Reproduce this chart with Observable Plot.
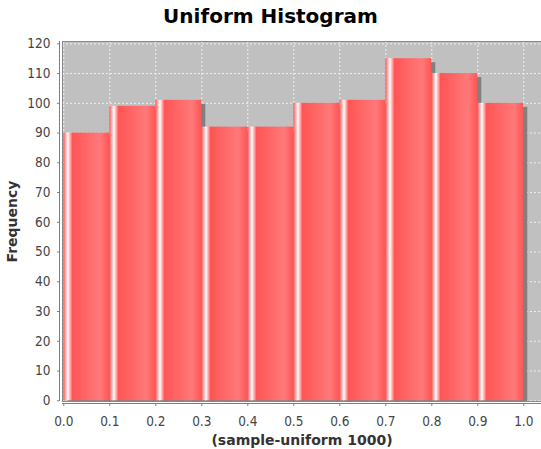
<!DOCTYPE html>
<html>
<head>
<meta charset="utf-8">
<script src="https://cdn.jsdelivr.net/npm/d3@7"></script>
<script src="https://cdn.jsdelivr.net/npm/@observablehq/plot@0.6"></script>
<style>
  html, body { margin: 0; padding: 0; background: #ffffff; }
  #title { width: 541px; height: 33px; line-height: 33px; text-align: center;
    font-family: "DejaVu Sans", sans-serif; font-weight: bold; font-size: 20px; color: #000; }
  svg { display: block; }
</style>
</head>
<body>
<div id="title">Uniform Histogram</div>
<div id="chart"></div>
<script>
const binStarts = [0.0, 0.1, 0.2, 0.3, 0.4, 0.5, 0.6, 0.7, 0.8, 0.9];
const binEnds   = [0.1, 0.2, 0.3, 0.4, 0.5, 0.6, 0.7, 0.8, 0.9, 1.0];
const counts    = [90, 99, 101, 92, 92, 100, 101, 115, 110, 100];
const xTicks = [0.0, 0.1, 0.2, 0.3, 0.4, 0.5, 0.6, 0.7, 0.8, 0.9, 1.0];
const yTicks = [0, 10, 20, 30, 40, 50, 60, 70, 80, 90, 100, 110, 120];
const xLabel = "(sample-uniform 1000)";
const yLabel = "Frequency";

const bins = binStarts.map((s, i) => ({x1: s, x2: binEnds[i], count: counts[i]}));
const xDomain = [-0.0028, 1.0385];
const yDomain = [-0.24, 120.78];

const tickFont = "'DejaVu Sans Condensed', 'DejaVu Sans', sans-serif";

const chart = Plot.plot({
  width: 541,
  height: 416,
  marginTop: 8,
  marginBottom: 48,
  marginLeft: 62,
  marginRight: 0,
  style: {fontFamily: tickFont, fontSize: "13.5px", background: "#ffffff", overflow: "visible"},
  x: {domain: xDomain},
  y: {domain: yDomain},
  marks: [
    Plot.frame({fill: "#c0c0c0"}),
    Plot.gridX(xTicks, {stroke: "#ffffff", strokeOpacity: 0.75, strokeDasharray: "2,2"}),
    Plot.gridY(yTicks, {stroke: "#ffffff", strokeOpacity: 0.75, strokeDasharray: "2,2"}),
    Plot.rectY(bins, {x1: "x1", x2: "x2", y1: 0, y2: "count", fill: "#808080", dx: 4, dy: 4, clip: true}),
    Plot.rectY(bins, {x1: "x1", x2: "x2", y1: 0, y2: "count", fill: "url(#barGrad)", clip: true}),
    Plot.frame({stroke: "#8a8a8a", strokeWidth: 1}),
    Plot.ruleX([xDomain[0]], {stroke: "#808080", dx: -3}),
    Plot.ruleY([yDomain[0]], {stroke: "#808080", dy: 2}),
    Plot.axisY(yTicks, {anchor: "left", tickSize: 2, tickPadding: 7, dx: -3, stroke: "#808080", fill: "#444444", label: null}),
    Plot.axisX(xTicks, {anchor: "bottom", tickSize: 3, tickPadding: 10, dy: 2, stroke: "#808080", fill: "#444444", label: null, tickFormat: d3.format(".1f")}),
    Plot.text([xLabel], {frameAnchor: "bottom", textAnchor: "middle", lineAnchor: "middle", dy: 39.5, fontFamily: "'DejaVu Sans', sans-serif", fontWeight: "bold", fontSize: 14, fill: "#333333"}),
    Plot.text([yLabel], {frameAnchor: "left", textAnchor: "middle", lineAnchor: "middle", dx: -49.5, rotate: -90, fontFamily: "'DejaVu Sans', sans-serif", fontWeight: "bold", fontSize: 14, fill: "#333333"})
  ]
});

const ns = "http://www.w3.org/2000/svg";
const defs = document.createElementNS(ns, "defs");
defs.innerHTML = `<linearGradient id="barGrad" x1="0" y1="0" x2="1" y2="0">
  <stop offset="0" stop-color="#ff5555"/>
  <stop offset="0.1" stop-color="#ffffff"/>
  <stop offset="0.2" stop-color="#ff5555"/>
  <stop offset="0.8" stop-color="#ff7979"/>
  <stop offset="1" stop-color="#ff5555"/>
</linearGradient>`;
chart.insertBefore(defs, chart.firstChild);
document.getElementById("chart").appendChild(chart);
</script>
</body>
</html>
